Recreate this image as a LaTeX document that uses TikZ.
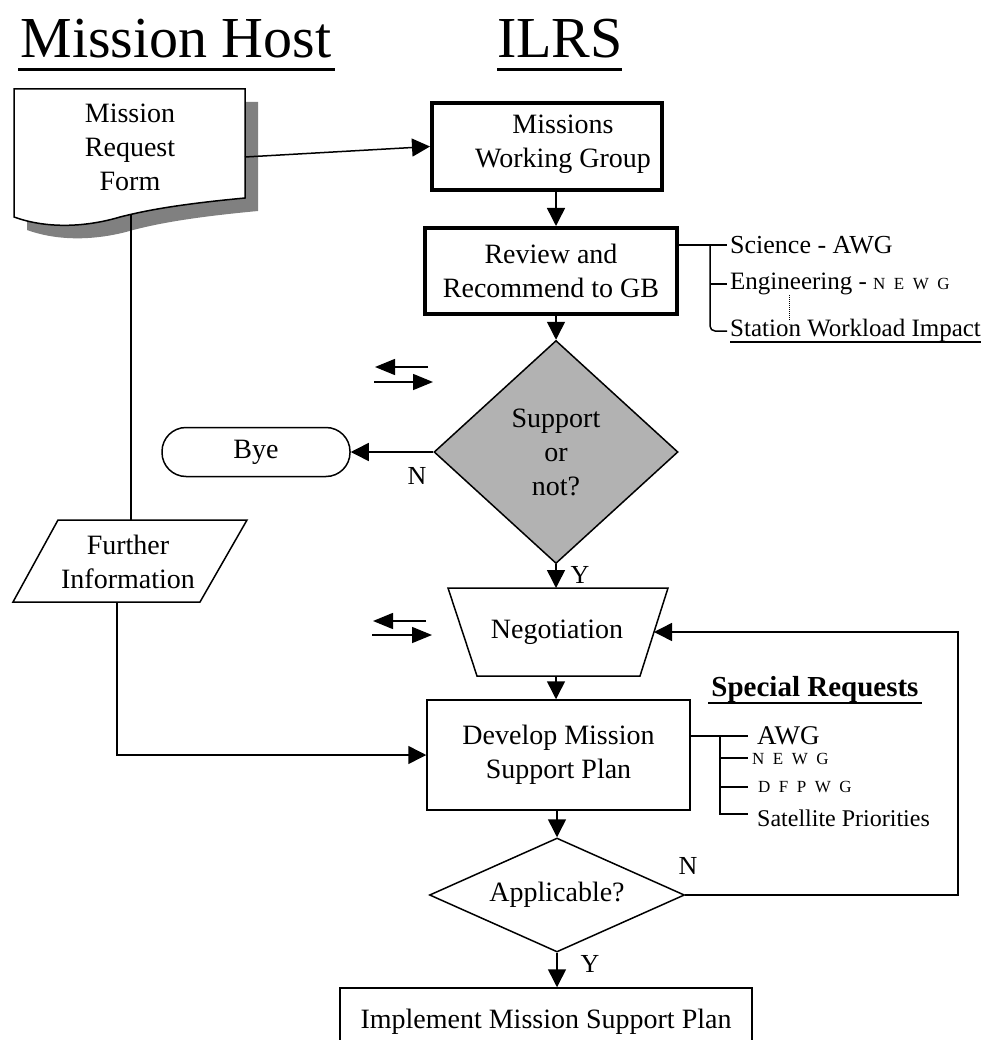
\documentclass[tikz,border=0pt]{standalone}
\usepackage{fontspec}
\setmainfont{Liberation Serif}
\usetikzlibrary{arrows.meta,shapes.geometric}
\definecolor{diagray}{RGB}{178,178,178}
\definecolor{shadowgray}{RGB}{128,128,128}
\newcommand{\smallletters}{\fontsize{17}{20}\selectfont}
\begin{document}
\begin{tikzpicture}[x=1pt,y=-1pt,
  line/.style={line width=1.5pt},
  arr/.style={line width=1.5pt,-{Triangle[length=18pt,width=18pt]}},
  arrs/.style={line width=1.5pt,-{Triangle[length=20pt,width=16pt]}},
  maintext/.style={font=\fontsize{28}{34}\selectfont},
  box/.style={draw,line width=1.5pt,inner sep=0pt,align=center,maintext},
  thickbox/.style={box,line width=4pt},
  txt/.style={inner sep=0pt,align=center,maintext},
  side/.style={inner sep=0pt,anchor=west,font=\fontsize{25}{28}\selectfont},
  small/.style={font=\smallletters},
  lbl/.style={inner sep=0pt,font=\fontsize{26}{30}\selectfont}
]
\useasboundingbox (0,0) rectangle (984,1040);

% titles
\node[anchor=base,inner sep=0pt,font=\fontsize{58}{64}\selectfont] (t1) at (176,58) {Mission Host};
\node[anchor=base,inner sep=0pt,font=\fontsize{58}{64}\selectfont] (t2) at (560,58) {ILRS};
\draw[line width=3pt] (18,70) -- (335,70);
\draw[line width=3pt] (497,70) -- (622,70);

% document shape with shadow
\fill[shadowgray,shift={(13,13)}] (14,89) -- (245,89) -- (245,198)
  .. controls (170,205) and (140,212) .. (120,217)
  .. controls (90,226) and (50,230) .. (14,217) -- cycle;
\draw[line,fill=white] (14,89) -- (245,89) -- (245,198)
  .. controls (170,205) and (140,212) .. (120,217)
  .. controls (90,226) and (50,230) .. (14,217) -- cycle;
\node[txt] (mrf) at (130,147) {Mission\\Request\\Form};
\coordinate (docr) at (245,157);
\coordinate (docb) at (131,214);

% ILRS column
\node[thickbox,minimum width=230pt,minimum height=87pt] (mwg) at (547,146.5) {};
\node[txt] (mwgtext) at (563,144) {Missions\\Working Group};
\node[thickbox,minimum width=252pt,minimum height=86pt] (rev) at (551,271) {Review and\\Recommend to GB};
\node[box,diamond,fill=diagray,minimum width=244pt,minimum height=223pt] (sup) at (556,452) {Support\\or\\not?};
\node[box,rounded corners=24pt,minimum width=188pt,minimum height=49pt] (bye) at (256,452) {Bye};

\draw[line] (448,588) -- (668,588) -- (640,676) -- (477,676) -- cycle;
\node[txt] (neg) at (557,632) {Negotiation};
\coordinate (negtop) at (556,588);
\coordinate (negbot) at (556,676);
\coordinate (negr) at (654,632);

\node[box,minimum width=263pt,minimum height=110pt] (dev) at (558.5,755) {Develop Mission\\Support Plan};
\node[box,diamond,aspect=2.3,minimum width=255pt,minimum height=114pt] (app) at (557,895) {Applicable?};
\node[box,minimum width=412pt,minimum height=68pt] (imp) at (546,1022) {Implement Mission Support Plan};

% further information
\draw[line] (58,520) -- (247,520) -- (200,602) -- (13,602) -- cycle;
\node[txt] (fi) at (128,562) {Further\\Information};
\coordinate (fitop) at (131,520);
\coordinate (fibot) at (117,602);

% connectors
\draw[arr] (docr) -- (mwg.west);
\draw[arr] (mwg.south -| sup.north) -- (rev.north -| sup.north);
\draw[arr] (rev.south -| sup.north) -- (sup.north);
\draw[arr] (sup.west) -- (bye.east);
\draw[arr] (sup.south) -- (negtop);
\draw[arr] (negbot) -- (dev.north -| negbot);
\draw[arr] (dev.south -| app.north) -- (app.north);
\draw[arr] (app.south) -- (imp.north -| app.south);
\draw[arr] (app.east) -- (958,895) -- (958,632) -- (negr);
\draw[line] (docb) -- (fitop);
\draw[arr] (fibot) |- (dev.west);

\node[lbl] (n1) at (417,476) {N};
\node[lbl] (y1) at (580,575) {Y};
\node[lbl] (n2) at (688,866) {N};
\node[lbl] (y2) at (590,964) {Y};

% exchange arrows
\draw[arrs] (428,367) -- (375,367);
\draw[arrs] (374,382) -- (433,382);
\draw[arrs] (426,621) -- (373,621);
\draw[arrs] (372,635) -- (432,635);

% bracket 1
\node[side,font=\fontsize{26}{28}\selectfont] (s1) at (730,245) {Science - AWG};
\node[side] (s2) at (730,284) {Engineering - {\smallletters N\ \ E\ \ W\ \ G}};
\node[side] (s3) at (730,330) {Station Workload Impact};
\draw[line width=1.5pt] ([yshift=-6pt]s3.base west) -- ([yshift=-6pt]s3.base east);
\draw[line] (rev.east |- s1.west) -- (727,245);
\draw[line,rounded corners=5pt] (710,245) -- (710,331) -- (727,331);
\draw[line] (710,284) -- (727,284);
\draw[line width=1pt,densely dotted] (789,295) -- (789,320);

% special requests
\node[inner sep=0pt,font=\fontsize{29}{30}\selectfont\bfseries] (sr) at (815,690) {Special Requests};
\draw[line width=2pt] (708,703) -- (922,703);
\node[side,font=\fontsize{27}{28}\selectfont] (r1) at (757,736) {AWG};
\node[side,small] (r2) at (752,759) {N\ \ E\ \ W\ \ G};
\node[side,small] (r3) at (758,787) {D\ \ F\ \ P\ \ W\ \ G};
\node[side,font=\fontsize{24}{26}\selectfont] (r4) at (757,818) {Satellite Priorities};
\draw[line] (dev.east |- r1.west) -- (748,736);
\draw[line] (720,736) -- (720,814) -- (748,814);
\draw[line] (720,758) -- (748,758);
\draw[line] (720,787) -- (748,787);
\end{tikzpicture}
\end{document}
